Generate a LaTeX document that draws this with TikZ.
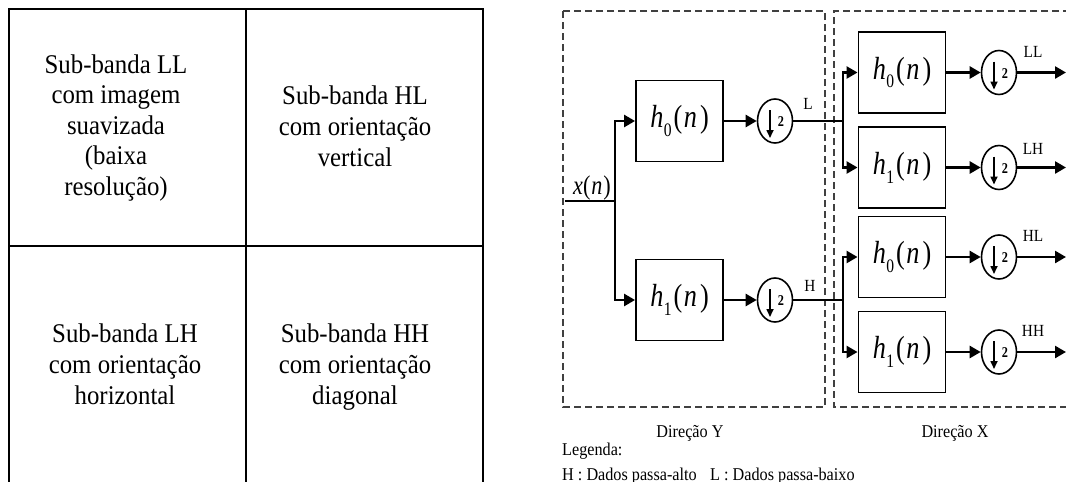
\documentclass[tikz,border=0pt]{standalone}
\usepackage{fontspec}
\setmainfont{Liberation Serif}[FakeStretch=0.92]
\newfontfamily\smallfont{Liberation Serif}[FakeStretch=0.9]
\newfontfamily\filtfont{Liberation Serif}[FakeStretch=0.82]
\usetikzlibrary{arrows.meta,shapes.geometric,calc}
\tikzset{
  gridout/.style={line width=2.5pt},
  gridin/.style={line width=1.8pt},
  cell/.style={align=center, inner sep=0pt, font=\fontsize{27}{30.6}\selectfont},
  dbox/.style={draw=black!75, line width=1.2pt, dash pattern=on 7pt off 4pt},
  filt/.style={draw, line width=1.9pt, minimum width=87pt, minimum height=81pt, inner sep=0pt,
    font=\filtfont\fontsize{32}{32}\selectfont},
  ds/.style={ellipse, draw, line width=1.6pt, minimum width=35pt, minimum height=44pt, inner sep=0pt},
  sig/.style={line width=2.5pt},
  arr/.style={sig, -{Triangle[length=11pt,width=12pt]}},
  lab/.style={font=\smallfont\fontsize{17}{17}\selectfont, inner sep=0pt},
  leg/.style={font=\smallfont\fontsize{18}{18}\selectfont, inner sep=0pt},
}
\newcommand\hfilt[1]{{\itshape h}\kern0.5pt\raisebox{-0.28em}{\fontsize{19}{19}\selectfont #1}\kern2pt(\kern1.5pt{\itshape n}\kern3pt)}
\newcommand\mydown[2]{%
  \node[ds] (#1) at (#2) {};
  \draw[line width=1.6pt,-{Triangle[length=8pt,width=7pt]}] ($(#1.center)+(-5,-11)$) -- ($(#1.center)+(-5,17)$);
  \node[font=\filtfont\bfseries\fontsize{15}{15}\selectfont, inner sep=0pt] (#1n) at ($(#1.center)+(6,1)$) {2};
}
\begin{document}
\begin{tikzpicture}[x=1pt,y=-1pt]
\useasboundingbox (0,0) rectangle (1066,482);
% ---------- left grid ----------
\draw[gridout] (9,483) -- (9,9) -- (483,9) -- (483,483);
\draw[gridin] (246,9) -- (246,483);
\draw[gridin] (9,246) -- (483,246);
\node[cell, anchor=base] (tLL) at (116,195.5) {Sub-banda LL\\com imagem\\suavizada\\(baixa\\resolução)};
\node[cell, anchor=base] (tHL) at (355,166) {Sub-banda HL\\com orientação\\vertical};
\node[cell, anchor=base] (tLH) at (125,404) {Sub-banda LH\\com orientação\\horizontal};
\node[cell, anchor=base] (tHH) at (355,404) {Sub-banda HH\\com orientação\\diagonal};
% ---------- dashed regions ----------
\draw[dbox] (563,11) rectangle (825,407);
\draw[dbox] (1070,11) -- (834,11) -- (834,407) -- (1070,407);
% ---------- Y direction ----------
\coordinate (in0) at (565,201);
\coordinate (jY) at (615,201);
\node[font=\filtfont\fontsize{27}{27}\selectfont, inner sep=0pt] (xn) at (592,188) {{\itshape x}(\kern1pt{\itshape n}\kern1pt)};
\node[filt] (hY0) at (679.5,121) {\hfilt{0}};
\node[filt] (hY1) at (679.5,300) {\hfilt{1}};
\mydown{dY0}{775,121}
\mydown{dY1}{775,300}
\draw[sig] (in0) -- (jY);
\draw[arr] (jY) |- (hY0.west);
\draw[arr] (jY) |- (hY1.west);
\draw[arr] (hY0.east) -- (dY0.west);
\draw[arr] (hY1.east) -- (dY1.west);
\coordinate (jL) at (843,121);
\coordinate (jH) at (843,300);
\draw[sig] (dY0.east) -- (jL);
\draw[sig] (dY1.east) -- (jH);
\node[lab] (lL) at (808,104) {L};
\node[lab] (lH) at (810,286) {H};
% ---------- X direction ----------
\node[filt] (hX0) at (902,72.5) {\hfilt{0}};
\node[filt] (hX1) at (902,167.5) {\hfilt{1}};
\node[filt] (hX2) at (902,257) {\hfilt{0}};
\node[filt] (hX3) at (902,352) {\hfilt{1}};
\mydown{dX0}{999,72.5}
\mydown{dX1}{999,167.5}
\mydown{dX2}{999,257}
\mydown{dX3}{999,352}
\draw[arr] (jL) |- (hX0.west);
\draw[arr] (jL) |- (hX1.west);
\draw[arr] (jH) |- (hX2.west);
\draw[arr] (jH) |- (hX3.west);
\foreach \i in {0,1,2,3} {\draw[arr] (hX\i.east) -- (dX\i.west);}
\coordinate (o0) at (1066,72.5);
\coordinate (o1) at (1066,167.5);
\coordinate (o2) at (1066,257);
\coordinate (o3) at (1066,352);
\foreach \i in {0,1,2,3} {\draw[arr] (dX\i.east) -- (o\i);}
\node[lab] (lLL) at (1033,52) {LL};
\node[lab] (lLH) at (1033,149) {LH};
\node[lab] (lHL) at (1033,236) {HL};
\node[lab] (lHH) at (1033,331) {HH};
% ---------- captions ----------
\node[leg, anchor=base] (cY) at (690,437) {Direção Y};
\node[leg, anchor=base] (cX) at (955,437) {Direção X};
\node[leg, anchor=base west] (leg1) at (562,455) {Legenda:};
\node[leg, anchor=base west] (leg2) at (562,480) {H : Dados passa-alto\hspace{0.75em}L : Dados passa-baixo};
\end{tikzpicture}
\end{document}
